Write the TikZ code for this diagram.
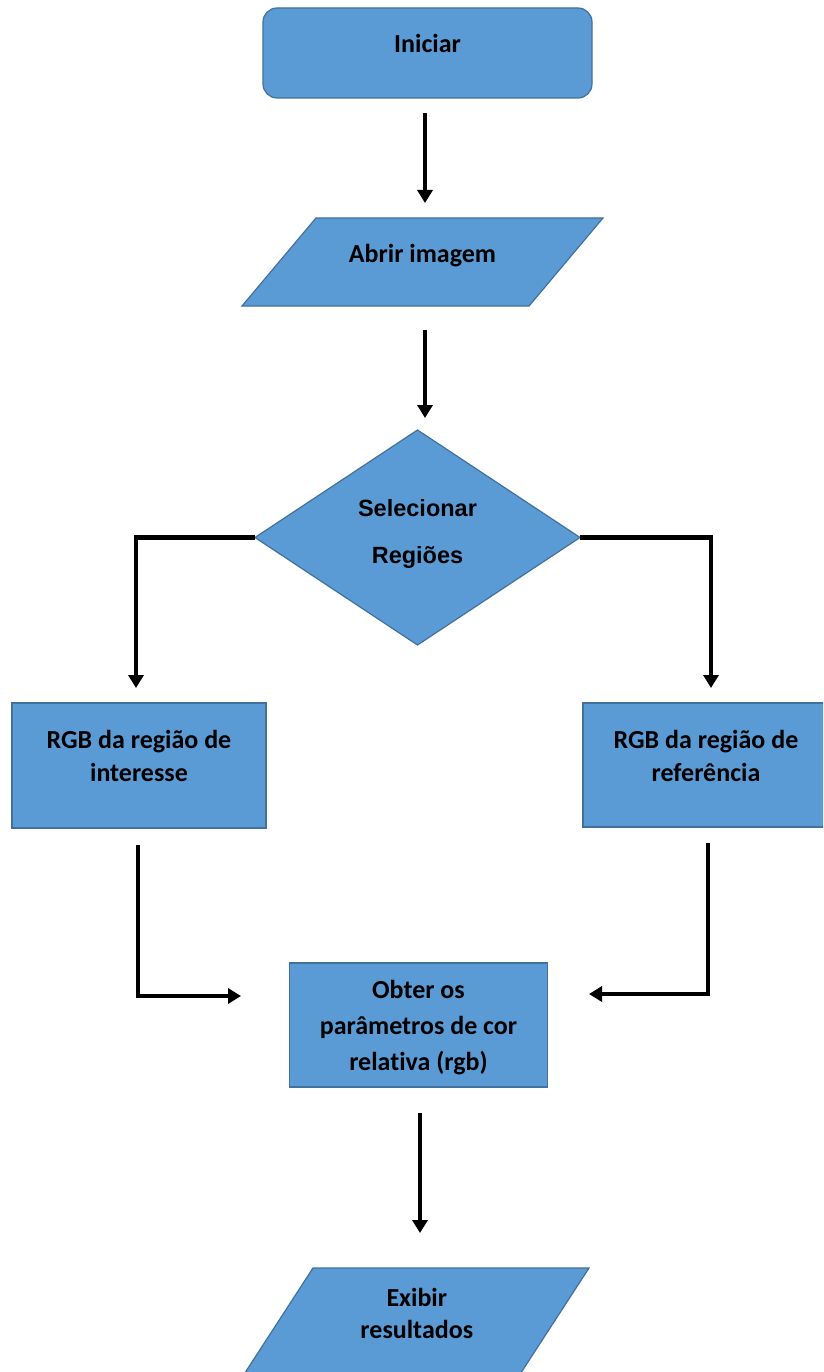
\documentclass[tikz,border=0pt]{standalone}
\usepackage{fontspec}
\setmainfont{Carlito}[Ligatures={NoCommon}]
\newfontfamily\arialfnt{Liberation Sans}
\usetikzlibrary{shapes.geometric,arrows.meta,backgrounds}
\definecolor{boxfill}{RGB}{91,155,213}
\definecolor{boxline}{RGB}{65,113,156}
\newcommand\boxtxt[2]{\raisebox{#1}[0pt][0pt]{\begin{tabular}[t]{@{}c@{}}#2\end{tabular}}}
\begin{document}
\begin{tikzpicture}[x=1pt,y=-1pt,
  base/.style={draw=boxline, fill=boxfill, line width=1.2pt, inner sep=0pt, outer sep=0pt, text=black},
  shapeline/.style={draw=boxline, fill=boxfill, line width=1.2pt},
  cal/.style={font=\fontsize{26}{33}\selectfont\bfseries},
  term/.style={base, cal, rectangle, rounded corners=14pt},
  proc/.style={base, cal, rectangle},
  io/.style={cal, rectangle, inner sep=0pt, outer sep=0pt, text=black},
  dec/.style={base, diamond, font=\arialfnt\fontsize{23.5}{47}\selectfont\bfseries},
  flow/.style={line width=4.2pt, -{Triangle[length=13pt,width=15pt]}}
]
\useasboundingbox (0,0) rectangle (823,1372);
\clip (0,0) rectangle (823,1372);

\node[term, minimum width=329pt, minimum height=90pt] (iniciar) at (427.5,53) {\boxtxt{0pt}{Iniciar}};
\node[io, minimum width=287pt, minimum height=88pt] (abrir) at (422.5,262) {\boxtxt{0pt}{Abrir imagem}};
\node[dec, minimum width=325pt, minimum height=215pt] (sel) at (417.5,537.5) {\boxtxt{21.5pt}{Selecionar\\Regiões}};
\node[proc, minimum width=254pt, minimum height=125pt] (rgbi) at (139,765.5) {\boxtxt{17.5pt}{RGB da região de\\interesse}};
\node[proc, minimum width=246pt, minimum height=124pt] (rgbr) at (706,765) {\boxtxt{17pt}{RGB da região de\\referência}};
\node[proc, minimum width=258pt, minimum height=124pt, font=\fontsize{26}{36}\selectfont\bfseries] (obter) at (418.5,1025) {\boxtxt{27pt}{Obter os\\parâmetros de cor\\relativa (rgb)}};
\node[io, minimum width=276pt, minimum height=130pt, font=\fontsize{26}{32}\selectfont\bfseries] (exibir) at (408.8,1333) {\hspace*{16pt}\boxtxt{27pt}{Exibir\\resultados}};

\begin{scope}[on background layer]
  \clip (0,0) rectangle (823,1372);
  \path[shapeline] ([xshift=-37pt]abrir.south west) -- ([xshift=-37pt]abrir.south east)
     -- ([xshift=37pt]abrir.north east) -- ([xshift=37pt]abrir.north west) -- cycle;
  \path[shapeline] ([xshift=-42.2pt]exibir.south west) -- ([xshift=-42.2pt]exibir.south east)
     -- ([xshift=42.2pt]exibir.north east) -- ([xshift=42.2pt]exibir.north west) -- cycle;
\end{scope}

\coordinate (a1s) at (425,113);
\coordinate (a1e) at (425,203);
\coordinate (a2s) at (425,330);
\coordinate (a2e) at (425,418);
\coordinate (cl) at (136,688);
\coordinate (cr) at (711,688);
\coordinate (bl) at (138,845);
\coordinate (ble) at (241,996);
\coordinate (br) at (708,843);
\coordinate (bre) at (589,994);
\coordinate (a7s) at (420,1113);
\coordinate (a7e) at (420,1233);

\draw[flow] (a1s) -- (a1e);
\draw[flow] (a2s) -- (a2e);
\draw[flow] (sel.west) -| (cl);
\draw[flow] (sel.east) -| (cr);
\draw[flow] (bl) |- (ble);
\draw[flow] (br) |- (bre);
\draw[flow] (a7s) -- (a7e);
\end{tikzpicture}
\end{document}
